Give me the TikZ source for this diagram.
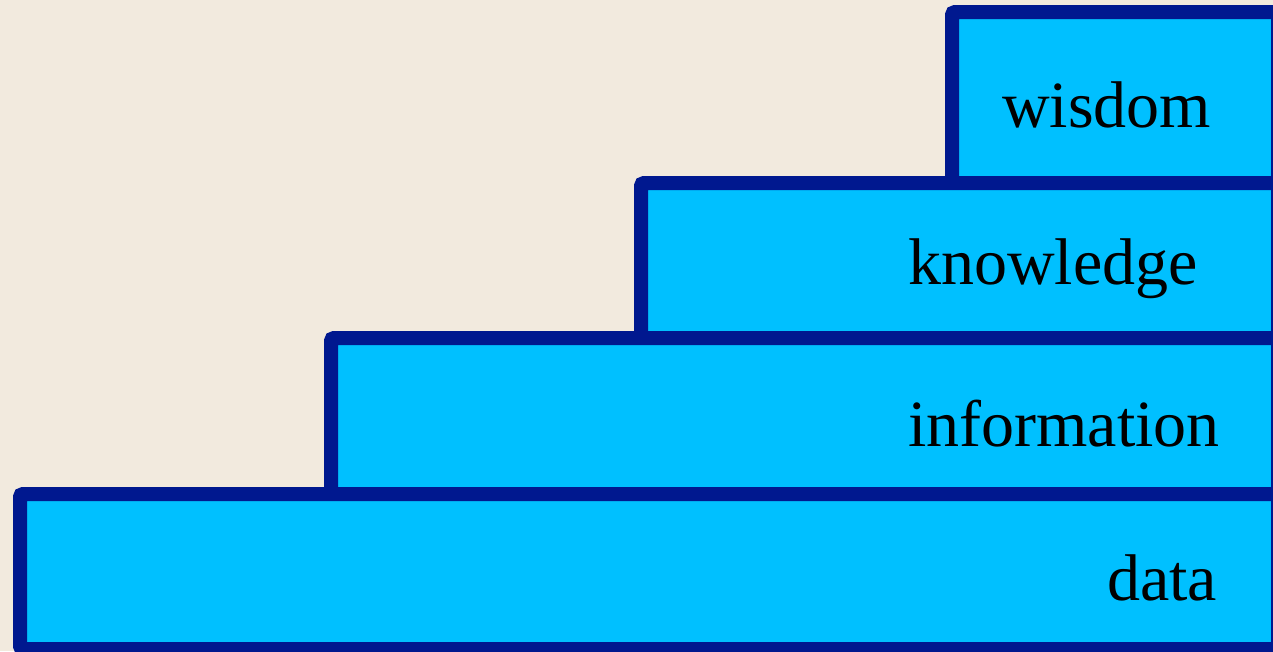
\documentclass[tikz,border=0pt]{standalone}
\usepackage{fontspec}
\setmainfont{Liberation Serif}
\definecolor{bg}{HTML}{F2EADE}
\definecolor{stepfill}{HTML}{00C0FF}
\definecolor{stepline}{HTML}{00188F}
\begin{document}
\begin{tikzpicture}[x=1pt,y=-1pt,
  stair/.style={fill=stepfill,draw=stepline,line width=14pt,rounded corners=3pt},
  lbl/.style={anchor=base west,inner sep=0pt,font=\fontsize{66}{79}\selectfont}]
\useasboundingbox (0,0) rectangle (1273,651);
\fill[bg] (0,0) rectangle (1273,651);
\clip (0,0) rectangle (1273,651);
% stacked steps, top to bottom
\draw[stair] (952,12) rectangle (1278,183);
\draw[stair] (641,183) rectangle (1278,338);
\draw[stair] (331,338) rectangle (1278,494);
\draw[stair] (20,494) rectangle (1278,649);
% labels
\node[lbl] (wisdom) at (1002,127) {wisdom};
\node[lbl] (knowledge) at (908,284) {knowledge};
\node[lbl] (information) at (908,446) {information};
\node[lbl] (data) at (1107,600) {data};
\end{tikzpicture}
\end{document}
